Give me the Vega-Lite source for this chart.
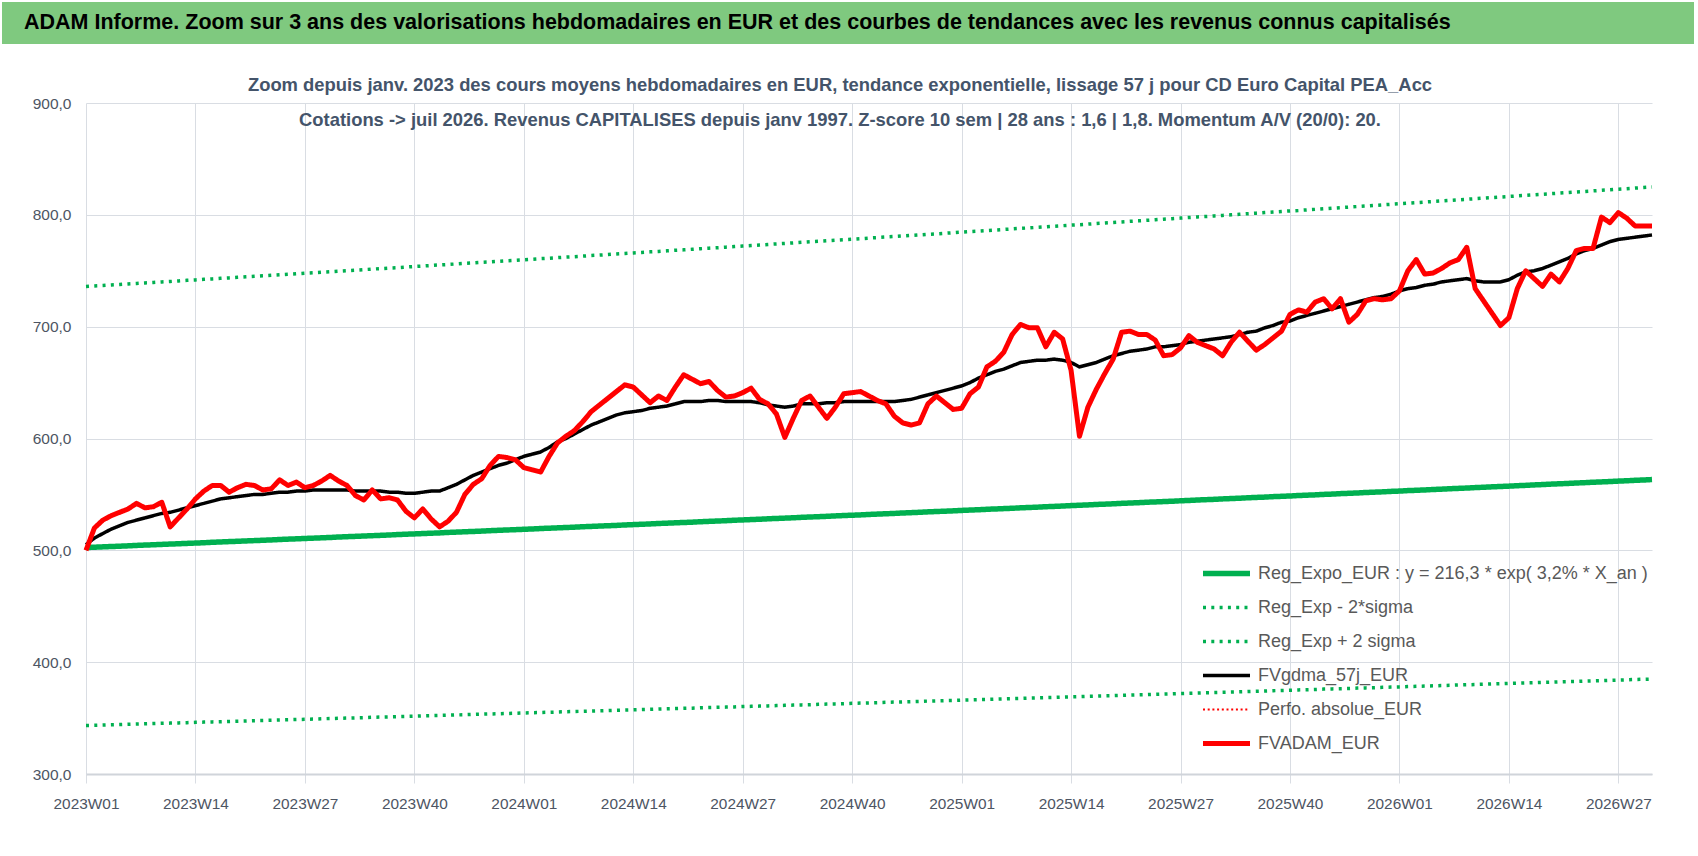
{
  "$schema": "https://vega.github.io/schema/vega-lite/v6.json",
  "background": "white",
  "padding": {"left": 2, "top": 2, "right": 4, "bottom": 0},
  "spacing": 31,
  "config": {
    "font": "Liberation Sans, sans-serif",
    "view": {"stroke": null}
  },
  "vconcat": [
    {
      "width": 1692,
      "height": 42,
      "view": {"fill": "#7fc97f", "stroke": null},
      "data": {"values": [{"t": "ADAM Informe. Zoom sur 3 ans des valorisations hebdomadaires en EUR et des courbes de tendances avec les revenus connus capitalisés", "p": 0}]},
      "mark": {"type": "text", "align": "left", "baseline": "middle", "dx": 22, "fontSize": 21.5, "fontWeight": "bold", "color": "#000000"},
      "encoding": {
        "text": {"field": "t"},
        "x": {"field": "p", "type": "quantitative", "scale": {"domain": [0, 1]}, "axis": null}
      }
    },
    {
      "width": 1650,
      "height": 671,
      "title": {
        "text": [
          "Zoom depuis janv. 2023 des cours moyens hebdomadaires en EUR, tendance exponentielle, lissage 57 j pour CD Euro Capital PEA_Acc",
          "Cotations -> juil 2026. Revenus CAPITALISES  depuis janv 1997. Z-score 10 sem | 28 ans : 1,6 | 1,8. Momentum A/V (20/0): 20."
        ],
        "fontSize": 18.4,
        "fontWeight": "bold",
        "color": "#44546a",
        "lineHeight": 35,
        "offset": -33,
        "anchor": "middle",
        "frame": "group",
        "dx": 13
      },
      "data": {"values": [
        {"w":"2023W01","a":500,"m":505,"r":502.5,"l":343.4,"h":735.9},
        {"w":"2023W02","a":520,"m":511,"r":502.8,"l":343.6,"h":736.4},
        {"w":"2023W03","a":527,"m":515,"r":503.1,"l":343.8,"h":736.8},
        {"w":"2023W04","a":531,"m":519,"r":503.4,"l":344.0,"h":737.3},
        {"w":"2023W05","a":534,"m":522,"r":503.7,"l":344.2,"h":737.7},
        {"w":"2023W06","a":537,"m":525,"r":504.0,"l":344.5,"h":738.2},
        {"w":"2023W07","a":542,"m":527,"r":504.4,"l":344.7,"h":738.6},
        {"w":"2023W08","a":538,"m":529,"r":504.7,"l":344.9,"h":739.1},
        {"w":"2023W09","a":539,"m":531,"r":505.0,"l":345.1,"h":739.5},
        {"w":"2023W10","a":543,"m":533,"r":505.3,"l":345.3,"h":740.0},
        {"w":"2023W11","a":521,"m":534,"r":505.6,"l":345.5,"h":740.4},
        {"w":"2023W12","a":529,"m":536,"r":505.9,"l":345.7,"h":740.9},
        {"w":"2023W13","a":537,"m":538,"r":506.2,"l":345.9,"h":741.4},
        {"w":"2023W14","a":546,"m":540,"r":506.5,"l":346.2,"h":741.8},
        {"w":"2023W15","a":553,"m":542,"r":506.8,"l":346.4,"h":742.3},
        {"w":"2023W16","a":558,"m":544,"r":507.2,"l":346.6,"h":742.7},
        {"w":"2023W17","a":558,"m":546,"r":507.5,"l":346.8,"h":743.2},
        {"w":"2023W18","a":552,"m":547,"r":507.8,"l":347.0,"h":743.6},
        {"w":"2023W19","a":556,"m":548,"r":508.1,"l":347.2,"h":744.1},
        {"w":"2023W20","a":559,"m":549,"r":508.4,"l":347.4,"h":744.6},
        {"w":"2023W21","a":558,"m":550,"r":508.7,"l":347.7,"h":745.0},
        {"w":"2023W22","a":554,"m":550,"r":509.0,"l":347.9,"h":745.5},
        {"w":"2023W23","a":555,"m":551,"r":509.3,"l":348.1,"h":745.9},
        {"w":"2023W24","a":563,"m":552,"r":509.7,"l":348.3,"h":746.4},
        {"w":"2023W25","a":558,"m":552,"r":510.0,"l":348.5,"h":746.8},
        {"w":"2023W26","a":561,"m":553,"r":510.3,"l":348.7,"h":747.3},
        {"w":"2023W27","a":556,"m":553,"r":510.6,"l":348.9,"h":747.8},
        {"w":"2023W28","a":558,"m":554,"r":510.9,"l":349.1,"h":748.2},
        {"w":"2023W29","a":562,"m":554,"r":511.2,"l":349.4,"h":748.7},
        {"w":"2023W30","a":567,"m":554,"r":511.5,"l":349.6,"h":749.1},
        {"w":"2023W31","a":562,"m":554,"r":511.9,"l":349.8,"h":749.6},
        {"w":"2023W32","a":558,"m":554,"r":512.2,"l":350.0,"h":750.1},
        {"w":"2023W33","a":549,"m":553,"r":512.5,"l":350.2,"h":750.5},
        {"w":"2023W34","a":545,"m":553,"r":512.8,"l":350.4,"h":751.0},
        {"w":"2023W35","a":554,"m":553,"r":513.1,"l":350.7,"h":751.5},
        {"w":"2023W36","a":546,"m":553,"r":513.4,"l":350.9,"h":751.9},
        {"w":"2023W37","a":547,"m":552,"r":513.7,"l":351.1,"h":752.4},
        {"w":"2023W38","a":545,"m":552,"r":514.1,"l":351.3,"h":752.8},
        {"w":"2023W39","a":535,"m":551,"r":514.4,"l":351.5,"h":753.3},
        {"w":"2023W40","a":529,"m":551,"r":514.7,"l":351.7,"h":753.8},
        {"w":"2023W41","a":537,"m":552,"r":515.0,"l":352.0,"h":754.2},
        {"w":"2023W42","a":528,"m":553,"r":515.3,"l":352.2,"h":754.7},
        {"w":"2023W43","a":521,"m":553,"r":515.6,"l":352.4,"h":755.2},
        {"w":"2023W44","a":526,"m":556,"r":516.0,"l":352.6,"h":755.6},
        {"w":"2023W45","a":534,"m":559,"r":516.3,"l":352.8,"h":756.1},
        {"w":"2023W46","a":550,"m":563,"r":516.6,"l":353.0,"h":756.6},
        {"w":"2023W47","a":559,"m":567,"r":516.9,"l":353.3,"h":757.0},
        {"w":"2023W48","a":564,"m":570,"r":517.2,"l":353.5,"h":757.5},
        {"w":"2023W49","a":576,"m":573,"r":517.6,"l":353.7,"h":757.9},
        {"w":"2023W50","a":584,"m":576,"r":517.9,"l":353.9,"h":758.4},
        {"w":"2023W51","a":583,"m":578,"r":518.2,"l":354.1,"h":758.9},
        {"w":"2023W52","a":581,"m":581,"r":518.5,"l":354.3,"h":759.3},
        {"w":"2024W01","a":574,"m":584,"r":518.8,"l":354.6,"h":759.8},
        {"w":"2024W02","a":572,"m":586,"r":519.1,"l":354.8,"h":760.3},
        {"w":"2024W03","a":570,"m":588,"r":519.5,"l":355.0,"h":760.8},
        {"w":"2024W04","a":584,"m":592,"r":519.8,"l":355.2,"h":761.2},
        {"w":"2024W05","a":596,"m":597,"r":520.1,"l":355.4,"h":761.7},
        {"w":"2024W06","a":602,"m":600,"r":520.4,"l":355.7,"h":762.2},
        {"w":"2024W07","a":607,"m":604,"r":520.7,"l":355.9,"h":762.6},
        {"w":"2024W08","a":615,"m":608,"r":521.1,"l":356.1,"h":763.1},
        {"w":"2024W09","a":624,"m":612,"r":521.4,"l":356.3,"h":763.6},
        {"w":"2024W10","a":630,"m":615,"r":521.7,"l":356.5,"h":764.0},
        {"w":"2024W11","a":636,"m":618,"r":522.0,"l":356.7,"h":764.5},
        {"w":"2024W12","a":642,"m":621,"r":522.3,"l":357.0,"h":765.0},
        {"w":"2024W13","a":648,"m":623,"r":522.7,"l":357.2,"h":765.4},
        {"w":"2024W14","a":646,"m":624,"r":523.0,"l":357.4,"h":765.9},
        {"w":"2024W15","a":639,"m":625,"r":523.3,"l":357.6,"h":766.4},
        {"w":"2024W16","a":632,"m":627,"r":523.6,"l":357.8,"h":766.9},
        {"w":"2024W17","a":638,"m":628,"r":524.0,"l":358.1,"h":767.3},
        {"w":"2024W18","a":634,"m":629,"r":524.3,"l":358.3,"h":767.8},
        {"w":"2024W19","a":646,"m":631,"r":524.6,"l":358.5,"h":768.3},
        {"w":"2024W20","a":657,"m":633,"r":524.9,"l":358.7,"h":768.7},
        {"w":"2024W21","a":653,"m":633,"r":525.2,"l":358.9,"h":769.2},
        {"w":"2024W22","a":649,"m":633,"r":525.6,"l":359.2,"h":769.7},
        {"w":"2024W23","a":651,"m":634,"r":525.9,"l":359.4,"h":770.2},
        {"w":"2024W24","a":643,"m":634,"r":526.2,"l":359.6,"h":770.6},
        {"w":"2024W25","a":637,"m":633,"r":526.5,"l":359.8,"h":771.1},
        {"w":"2024W26","a":638,"m":633,"r":526.9,"l":360.0,"h":771.6},
        {"w":"2024W27","a":641,"m":633,"r":527.2,"l":360.3,"h":772.1},
        {"w":"2024W28","a":645,"m":633,"r":527.5,"l":360.5,"h":772.5},
        {"w":"2024W29","a":635,"m":632,"r":527.8,"l":360.7,"h":773.0},
        {"w":"2024W30","a":631,"m":630,"r":528.2,"l":360.9,"h":773.5},
        {"w":"2024W31","a":622,"m":629,"r":528.5,"l":361.2,"h":774.0},
        {"w":"2024W32","a":601,"m":628,"r":528.8,"l":361.4,"h":774.4},
        {"w":"2024W33","a":618,"m":629,"r":529.1,"l":361.6,"h":774.9},
        {"w":"2024W34","a":634,"m":631,"r":529.5,"l":361.8,"h":775.4},
        {"w":"2024W35","a":638,"m":631,"r":529.8,"l":362.0,"h":775.9},
        {"w":"2024W36","a":628,"m":631,"r":530.1,"l":362.3,"h":776.3},
        {"w":"2024W37","a":618,"m":632,"r":530.4,"l":362.5,"h":776.8},
        {"w":"2024W38","a":628,"m":632,"r":530.8,"l":362.7,"h":777.3},
        {"w":"2024W39","a":640,"m":633,"r":531.1,"l":362.9,"h":777.8},
        {"w":"2024W40","a":641,"m":633,"r":531.4,"l":363.2,"h":778.2},
        {"w":"2024W41","a":642,"m":633,"r":531.7,"l":363.4,"h":778.7},
        {"w":"2024W42","a":638,"m":633,"r":532.1,"l":363.6,"h":779.2},
        {"w":"2024W43","a":634,"m":633,"r":532.4,"l":363.8,"h":779.7},
        {"w":"2024W44","a":631,"m":633,"r":532.7,"l":364.1,"h":780.2},
        {"w":"2024W45","a":620,"m":633,"r":533.0,"l":364.3,"h":780.6},
        {"w":"2024W46","a":614,"m":634,"r":533.4,"l":364.5,"h":781.1},
        {"w":"2024W47","a":612,"m":635,"r":533.7,"l":364.7,"h":781.6},
        {"w":"2024W48","a":614,"m":637,"r":534.0,"l":364.9,"h":782.1},
        {"w":"2024W49","a":631,"m":639,"r":534.4,"l":365.2,"h":782.6},
        {"w":"2024W50","a":638,"m":641,"r":534.7,"l":365.4,"h":783.0},
        {"w":"2024W51","a":632,"m":643,"r":535.0,"l":365.6,"h":783.5},
        {"w":"2024W52","a":626,"m":645,"r":535.3,"l":365.8,"h":784.0},
        {"w":"2025W01","a":627,"m":647,"r":535.7,"l":366.1,"h":784.5},
        {"w":"2025W02","a":640,"m":650,"r":536.0,"l":366.3,"h":785.0},
        {"w":"2025W03","a":646,"m":654,"r":536.3,"l":366.5,"h":785.4},
        {"w":"2025W04","a":664,"m":657,"r":536.7,"l":366.7,"h":785.9},
        {"w":"2025W05","a":669,"m":660,"r":537.0,"l":367.0,"h":786.4},
        {"w":"2025W06","a":677,"m":662,"r":537.3,"l":367.2,"h":786.9},
        {"w":"2025W07","a":693,"m":665,"r":537.6,"l":367.4,"h":787.4},
        {"w":"2025W08","a":702,"m":668,"r":538.0,"l":367.6,"h":787.9},
        {"w":"2025W09","a":699,"m":669,"r":538.3,"l":367.9,"h":788.3},
        {"w":"2025W10","a":699,"m":670,"r":538.6,"l":368.1,"h":788.8},
        {"w":"2025W11","a":682,"m":670,"r":539.0,"l":368.3,"h":789.3},
        {"w":"2025W12","a":695,"m":671,"r":539.3,"l":368.5,"h":789.8},
        {"w":"2025W13","a":689,"m":670,"r":539.6,"l":368.8,"h":790.3},
        {"w":"2025W14","a":661,"m":668,"r":540.0,"l":369.0,"h":790.8},
        {"w":"2025W15","a":602,"m":664,"r":540.3,"l":369.2,"h":791.2},
        {"w":"2025W16","a":628,"m":666,"r":540.6,"l":369.5,"h":791.7},
        {"w":"2025W17","a":644,"m":668,"r":541.0,"l":369.7,"h":792.2},
        {"w":"2025W18","a":658,"m":671,"r":541.3,"l":369.9,"h":792.7},
        {"w":"2025W19","a":671,"m":674,"r":541.6,"l":370.1,"h":793.2},
        {"w":"2025W20","a":695,"m":676,"r":542.0,"l":370.4,"h":793.7},
        {"w":"2025W21","a":696,"m":678,"r":542.3,"l":370.6,"h":794.2},
        {"w":"2025W22","a":693,"m":679,"r":542.6,"l":370.8,"h":794.6},
        {"w":"2025W23","a":693,"m":680,"r":543.0,"l":371.0,"h":795.1},
        {"w":"2025W24","a":688,"m":682,"r":543.3,"l":371.3,"h":795.6},
        {"w":"2025W25","a":674,"m":682,"r":543.6,"l":371.5,"h":796.1},
        {"w":"2025W26","a":675,"m":683,"r":543.9,"l":371.7,"h":796.6},
        {"w":"2025W27","a":681,"m":684,"r":544.3,"l":372.0,"h":797.1},
        {"w":"2025W28","a":692,"m":686,"r":544.6,"l":372.2,"h":797.6},
        {"w":"2025W29","a":686,"m":687,"r":545.0,"l":372.4,"h":798.1},
        {"w":"2025W30","a":683,"m":688,"r":545.3,"l":372.6,"h":798.5},
        {"w":"2025W31","a":680,"m":689,"r":545.6,"l":372.9,"h":799.0},
        {"w":"2025W32","a":674,"m":690,"r":546.0,"l":373.1,"h":799.5},
        {"w":"2025W33","a":686,"m":691,"r":546.3,"l":373.3,"h":800.0},
        {"w":"2025W34","a":695,"m":693,"r":546.6,"l":373.5,"h":800.5},
        {"w":"2025W35","a":687,"m":695,"r":547.0,"l":373.8,"h":801.0},
        {"w":"2025W36","a":679,"m":696,"r":547.3,"l":374.0,"h":801.5},
        {"w":"2025W37","a":684,"m":699,"r":547.6,"l":374.2,"h":802.0},
        {"w":"2025W38","a":690,"m":701,"r":548.0,"l":374.5,"h":802.5},
        {"w":"2025W39","a":696,"m":704,"r":548.3,"l":374.7,"h":803.0},
        {"w":"2025W40","a":711,"m":705,"r":548.6,"l":374.9,"h":803.5},
        {"w":"2025W41","a":715,"m":708,"r":549.0,"l":375.2,"h":803.9},
        {"w":"2025W42","a":713,"m":710,"r":549.3,"l":375.4,"h":804.4},
        {"w":"2025W43","a":722,"m":712,"r":549.6,"l":375.6,"h":804.9},
        {"w":"2025W44","a":725,"m":714,"r":550.0,"l":375.9,"h":805.4},
        {"w":"2025W45","a":716,"m":716,"r":550.3,"l":376.1,"h":805.9},
        {"w":"2025W46","a":725,"m":718,"r":550.7,"l":376.3,"h":806.4},
        {"w":"2025W47","a":704,"m":720,"r":551.0,"l":376.5,"h":806.9},
        {"w":"2025W48","a":711,"m":722,"r":551.3,"l":376.8,"h":807.4},
        {"w":"2025W49","a":723,"m":724,"r":551.7,"l":377.0,"h":807.9},
        {"w":"2025W50","a":725,"m":726,"r":552.0,"l":377.2,"h":808.4},
        {"w":"2025W51","a":724,"m":727,"r":552.3,"l":377.5,"h":808.9},
        {"w":"2025W52","a":725,"m":729,"r":552.7,"l":377.7,"h":809.4},
        {"w":"2026W01","a":732,"m":732,"r":553.0,"l":377.9,"h":809.9},
        {"w":"2026W02","a":750,"m":734,"r":553.4,"l":378.2,"h":810.4},
        {"w":"2026W03","a":760,"m":735,"r":553.7,"l":378.4,"h":810.9},
        {"w":"2026W04","a":747,"m":737,"r":554.0,"l":378.6,"h":811.4},
        {"w":"2026W05","a":748,"m":738,"r":554.4,"l":378.9,"h":811.9},
        {"w":"2026W06","a":752,"m":740,"r":554.7,"l":379.1,"h":812.4},
        {"w":"2026W07","a":757,"m":741,"r":555.1,"l":379.3,"h":812.9},
        {"w":"2026W08","a":760,"m":742,"r":555.4,"l":379.6,"h":813.4},
        {"w":"2026W09","a":771,"m":743,"r":555.7,"l":379.8,"h":813.9},
        {"w":"2026W10","a":734,"m":741,"r":556.1,"l":380.0,"h":814.4},
        {"w":"2026W11","a":723,"m":740,"r":556.4,"l":380.3,"h":814.9},
        {"w":"2026W12","a":712,"m":740,"r":556.8,"l":380.5,"h":815.4},
        {"w":"2026W13","a":701,"m":740,"r":557.1,"l":380.7,"h":815.9},
        {"w":"2026W14","a":708,"m":742,"r":557.4,"l":381.0,"h":816.4},
        {"w":"2026W15","a":734,"m":746,"r":557.8,"l":381.2,"h":816.9},
        {"w":"2026W16","a":750,"m":749,"r":558.1,"l":381.4,"h":817.4},
        {"w":"2026W17","a":743,"m":750,"r":558.5,"l":381.6,"h":817.9},
        {"w":"2026W18","a":736,"m":752,"r":558.8,"l":381.9,"h":818.4},
        {"w":"2026W19","a":747,"m":755,"r":559.2,"l":382.1,"h":818.9},
        {"w":"2026W20","a":740,"m":758,"r":559.5,"l":382.4,"h":819.4},
        {"w":"2026W21","a":752,"m":761,"r":559.8,"l":382.6,"h":819.9},
        {"w":"2026W22","a":768,"m":765,"r":560.2,"l":382.8,"h":820.4},
        {"w":"2026W23","a":770,"m":768,"r":560.5,"l":383.1,"h":820.9},
        {"w":"2026W24","a":770,"m":770,"r":560.9,"l":383.3,"h":821.4},
        {"w":"2026W25","a":798,"m":773,"r":561.2,"l":383.5,"h":821.9},
        {"w":"2026W26","a":793,"m":776,"r":561.5,"l":383.8,"h":822.4},
        {"w":"2026W27","a":802,"m":778,"r":561.9,"l":384.0,"h":822.9},
        {"w":"2026W28","a":797,"m":779,"r":562.2,"l":384.2,"h":823.4},
        {"w":"2026W29","a":790,"m":780,"r":562.6,"l":384.5,"h":823.9},
        {"w":"2026W30","a":790,"m":781,"r":562.9,"l":384.7,"h":824.4},
        {"w":"2026W31","a":790,"m":782,"r":563.3,"l":384.9,"h":824.9}
      ]},
      "transform": [{"fold": ["r", "l", "h", "m", "a"], "as": ["k", "v"]}],
      "mark": {"type": "line", "strokeJoin": "round"},
      "encoding": {
        "x": {
          "field": "w",
          "type": "ordinal",
          "sort": null,
          "scale": {"type": "point", "padding": 0, "range": [84, 1650]},
          "axis": {
            "title": null,
            "values": ["2023W01", "2023W14", "2023W27", "2023W40", "2024W01", "2024W14", "2024W27", "2024W40", "2025W01", "2025W14", "2025W27", "2025W40", "2026W01", "2026W14", "2026W27"],
            "labelAngle": 0,
            "labelFontSize": 15.4,
            "labelColor": "#4d5563",
            "labelPadding": 13,
            "tickSize": 9,
            "tickColor": "#d9dde3",
            "grid": true,
            "gridColor": "#d9dde3",
            "domainColor": "#d0d4da",
            "domainWidth": 2
          }
        },
        "y": {
          "field": "v",
          "type": "quantitative",
          "scale": {"domain": [300, 900], "nice": false, "zero": false},
          "axis": {
            "title": null,
            "values": [300, 400, 500, 600, 700, 800, 900],
            "labelExpr": "replace(format(datum.value, '.1f'), '.', ',')",
            "labelFontSize": 15.5,
            "labelColor": "#4d5563",
            "labelPadding": 15,
            "offset": -84,
            "domain": false,
            "ticks": false,
            "grid": true,
            "gridColor": "#d9dde3"
          }
        },
        "color": {
          "field": "k",
          "type": "nominal",
          "scale": {"domain": ["r", "l", "h", "m", "p", "a"], "range": ["#00b050", "#00b050", "#00b050", "#000000", "#ff0000", "#ff0000"]},
          "legend": {
            "title": null,
            "orient": "none",
            "legendX": 1198,
            "legendY": 555,
            "padding": 0,
            "symbolType": "stroke",
            "symbolSize": 2209,
            "clipHeight": 33.2,
            "rowPadding": 0,
            "labelFontSize": 18,
            "labelColor": "#595959",
            "labelOffset": 5,
            "labelLimit": 700,
            "labelExpr": "datum.label == 'r' ? 'Reg_Expo_EUR : y = 216,3 * exp( 3,2% *  X_an )' : datum.label == 'l' ? 'Reg_Exp - 2*sigma' : datum.label == 'h' ? 'Reg_Exp + 2 sigma' : datum.label == 'm' ? 'FVgdma_57j_EUR' : datum.label == 'p' ? 'Perfo. absolue_EUR' : 'FVADAM_EUR'"
          }
        },
        "strokeDash": {
          "field": "k",
          "type": "nominal",
          "scale": {"domain": ["r", "l", "h", "m", "p", "a"], "range": [[1, 0], [3, 5.3], [3, 5.3], [1, 0], [2, 2.7], [1, 0]]}
        },
        "strokeWidth": {
          "field": "k",
          "type": "nominal",
          "scale": {"type": "ordinal", "domain": ["r", "l", "h", "m", "p", "a"], "range": [5.5, 3.5, 3.5, 3.5, 2, 5]}
        }
      }
    }
  ]
}
